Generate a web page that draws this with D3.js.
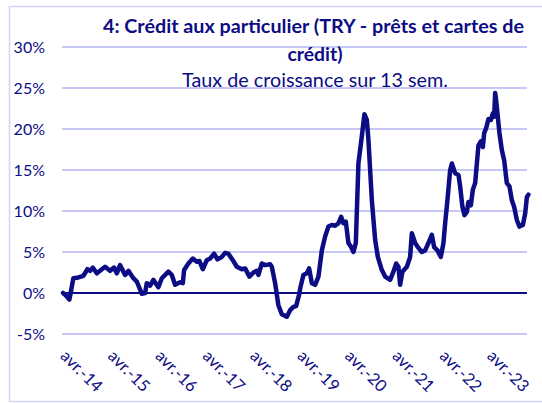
<!DOCTYPE html>
<html>
<head>
<meta charset="utf-8">
<script src="https://cdn.jsdelivr.net/npm/d3@7"></script>
<style>
  body { margin: 0; background: #fff; }
  svg { display: block; font-family: Lato, "Liberation Sans", sans-serif; }
</style>
</head>
<body>
<div id="chart"></div>
<script>
// Months counted from April 2014 (x position of each reading)
const months = [
  -0.13, 0.38, 1.47, 2.48, 3.75, 5.01, 6.03, 6.71, 7.39, 8.41,
  10.51, 11.77, 12.78, 13.47, 14.30, 15.57, 16.41, 17.67, 18.53, 19.80,
  20.63, 21.06, 21.90, 22.73, 24.00, 24.86, 26.53, 27.39, 28.23, 29.49,
  30.18, 30.51, 31.59, 32.71, 33.72, 34.38, 35.24, 36.25, 37.09, 38.10,
  38.94, 40.05, 40.89, 41.72, 42.84, 43.85, 45.11, 45.95, 47.04, 48.05,
  48.91, 49.32, 50.18, 51.01, 52.28, 52.71, 53.54, 54.38, 55.24, 56.51,
  57.34, 58.18, 58.86, 59.62, 60.00, 60.71, 61.57, 62.15, 62.84, 63.67,
  64.51, 65.37, 66.20, 67.04, 67.90, 68.73, 69.57, 70.25, 70.84, 71.44,
  72.10, 72.78, 73.37, 73.97, 74.63, 75.49, 76.15, 76.76, 77.16, 78.03,
  78.86, 79.54, 80.56, 81.39, 82.66, 83.49, 84.18, 84.76, 85.19, 85.77,
  86.89, 87.72, 88.15, 88.99, 89.82, 90.68, 91.52, 92.35, 93.22, 93.80,
  94.63, 95.49, 96.15, 96.58, 97.16, 97.85, 98.28, 99.11, 99.95, 100.38,
  100.96, 101.47, 102.08, 102.48, 103.09, 103.59, 104.18, 104.61, 105.01, 105.62,
  106.13, 106.46, 106.96, 107.54, 108.15, 108.66, 108.99, 109.24, 109.49, 109.82,
  110.33, 110.94, 111.52, 112.20, 112.86, 113.47, 114.05, 114.73, 115.39, 116.25,
  116.84, 117.27, 117.67
];

// 13-week growth rate, %
const growth = [
  0.0, -0.2, -0.8, 1.8, 1.9, 2.1, 2.9, 2.7, 3.1, 2.4,
  3.2, 2.7, 3.1, 2.4, 3.4, 2.2, 2.7, 1.8, 1.4, -0.1,
  0.0, 1.2, 0.9, 1.6, 0.7, 1.8, 2.6, 2.2, 1.0, 1.3,
  1.2, 2.8, 3.6, 4.2, 3.8, 3.9, 2.9, 4.0, 4.2, 4.8,
  4.1, 4.4, 4.9, 4.8, 4.0, 3.2, 2.9, 3.0, 2.0, 2.5,
  2.7, 2.2, 3.6, 3.4, 3.5, 3.2, 1.2, -1.5, -2.6, -2.9,
  -2.1, -1.7, -1.6, -0.2, 0.8, 2.2, 2.4, 3.0, 1.2, 1.0,
  2.0, 5.2, 6.9, 8.1, 8.3, 8.2, 8.5, 9.3, 8.5, 8.7,
  6.1, 5.6, 5.0, 6.1, 15.8, 19.1, 21.8, 21.1, 18.7, 11.3,
  6.5, 4.4, 2.8, 2.0, 1.6, 2.6, 3.6, 3.2, 1.0, 2.6,
  3.2, 4.4, 7.3, 6.1, 5.5, 5.0, 5.2, 6.1, 7.1, 5.6,
  5.2, 4.4, 6.1, 8.5, 11.3, 15.0, 15.8, 14.6, 14.4, 13.0,
  10.5, 9.5, 9.9, 11.1, 10.7, 12.6, 13.4, 15.8, 18.0, 18.5,
  17.8, 19.5, 20.1, 21.2, 21.1, 21.9, 21.5, 24.4, 23.5, 21.9,
  19.5, 17.4, 16.2, 13.4, 13.0, 11.3, 10.5, 8.9, 8.1, 8.3,
  9.7, 11.7, 12.0
];

const tickMonths = [0, 12, 24, 36, 48, 60, 72, 84, 96, 108];
const tickLabels = ["avr.-14", "avr.-15", "avr.-16", "avr.-17", "avr.-18",
                    "avr.-19", "avr.-20", "avr.-21", "avr.-22", "avr.-23"];
const yTicks = [-5, 0, 5, 10, 15, 20, 25, 30];

const W = 542, H = 403;
const navy = "#0c0c84";

const svg = d3.select("#chart").append("svg")
    .attr("width", W)
    .attr("height", H);

// chart frame
svg.append("rect")
    .attr("x", 9.5).attr("y", 6.5)
    .attr("width", 560).attr("height", 395)
    .attr("fill", "none")
    .attr("stroke", "#d4d4fa")
    .attr("stroke-width", 1.5);

const x = d3.scaleLinear().domain([-0.4, 117.3]).range([62, 527]);
const y = d3.scaleLinear().domain([-5, 30]).range([334, 47]);

// gridlines
svg.append("g")
    .selectAll("line")
    .data(yTicks.filter(d => d !== 0))
    .enter()
    .append("line")
    .attr("x1", 62).attr("x2", 527)
    .attr("y1", d => y(d)).attr("y2", d => y(d))
    .attr("stroke", "#c8c8f6")
    .attr("stroke-width", 2);

// y labels
svg.append("g")
    .selectAll("text")
    .data(yTicks)
    .enter()
    .append("text")
    .attr("x", 45)
    .attr("y", d => y(d) + 5.5)
    .attr("text-anchor", "end")
    .attr("fill", navy)
    .style("font-size", "16px")
    .text(d => d + "%");

// zero line
svg.append("line")
    .attr("x1", 62).attr("x2", 527)
    .attr("y1", y(0)).attr("y2", y(0))
    .attr("stroke", navy)
    .attr("stroke-width", 2);

// x labels, rotated
svg.append("g")
    .selectAll("text")
    .data(tickMonths)
    .enter()
    .append("text")
    .attr("transform", d => `translate(${x(d) - 4},${357}) rotate(45)`)
    .attr("fill", navy)
    .style("font-size", "16.5px")
    .text((d, i) => tickLabels[i]);

// series
const line = d3.line()
    .x((d, i) => x(months[i]))
    .y(d => y(d))
    .curve(d3.curveLinear);

svg.append("path")
    .datum(growth)
    .attr("d", line)
    .attr("fill", "none")
    .attr("stroke", navy)
    .attr("stroke-width", 4.5)
    .attr("stroke-linejoin", "round")
    .attr("stroke-linecap", "round");

// titles
svg.append("text")
    .attr("x", 313.5).attr("y", 33)
    .attr("text-anchor", "middle")
    .attr("fill", navy)
    .style("font-size", "18.5px")
    .style("font-weight", "bold")
    .attr("textLength", 421)
    .attr("lengthAdjust", "spacingAndGlyphs")
    .text("4: Crédit aux particulier (TRY - prêts et cartes de");

svg.append("text")
    .attr("x", 315).attr("y", 61)
    .attr("text-anchor", "middle")
    .attr("fill", navy)
    .style("font-size", "18.5px")
    .style("font-weight", "bold")
    .attr("textLength", 55)
    .attr("lengthAdjust", "spacingAndGlyphs")
    .text("crédit)");

svg.append("text")
    .attr("x", 315).attr("y", 87)
    .attr("text-anchor", "middle")
    .attr("fill", navy)
    .style("font-size", "18.5px")
    .attr("textLength", 266)
    .attr("lengthAdjust", "spacingAndGlyphs")
    .text("Taux de croissance sur 13 sem.");
</script>
</body>
</html>
